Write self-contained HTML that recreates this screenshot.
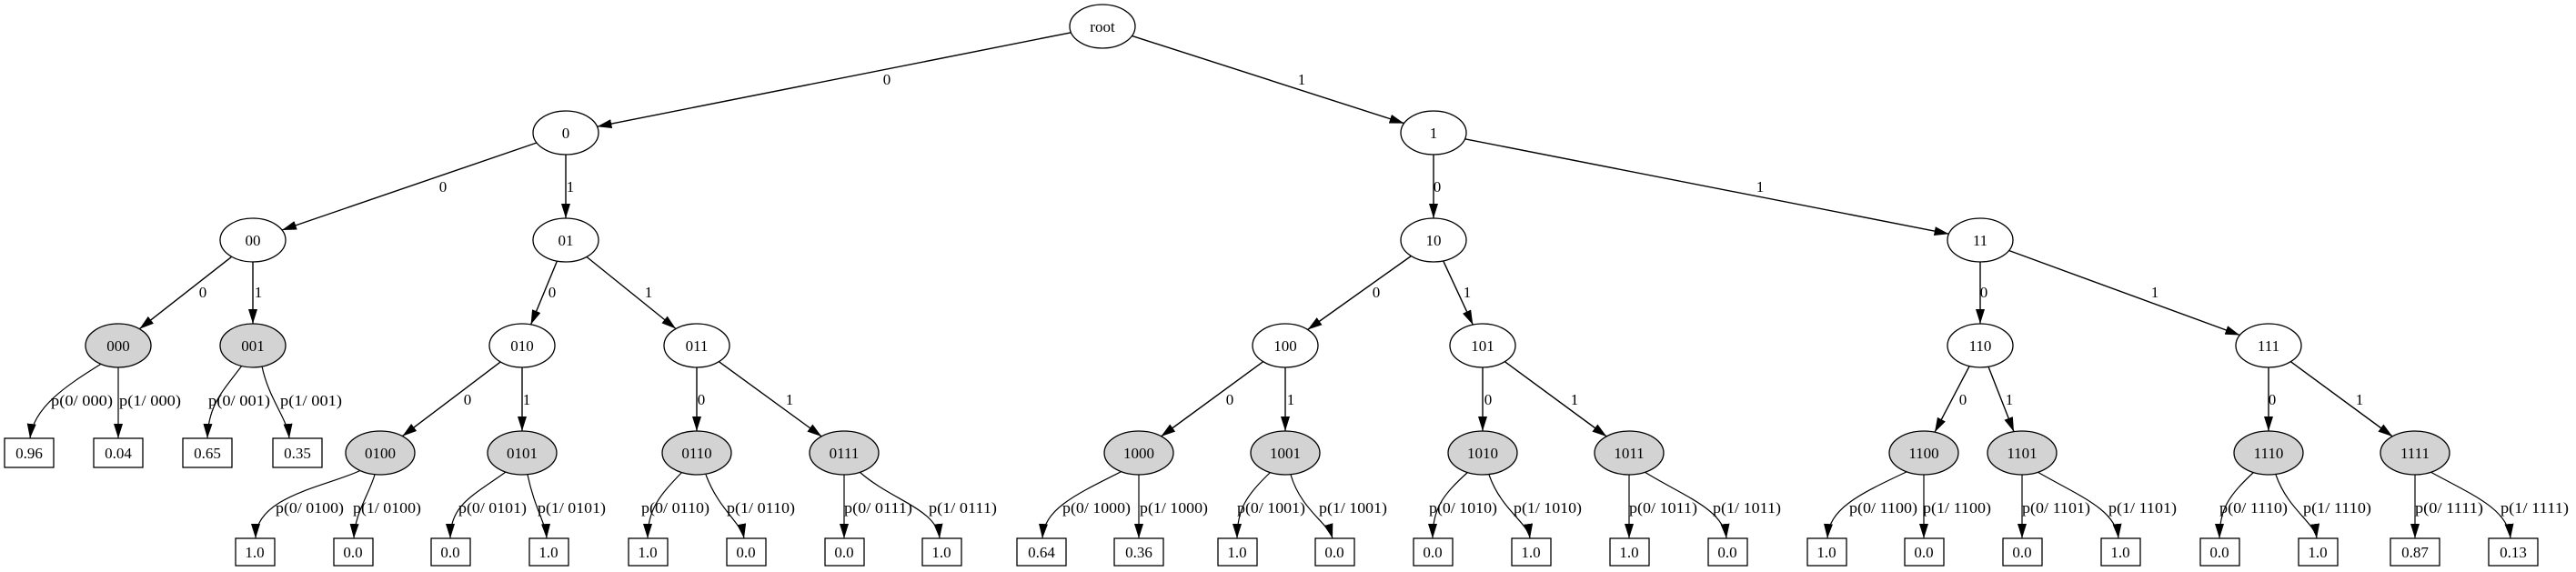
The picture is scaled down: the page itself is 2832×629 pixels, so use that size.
<!DOCTYPE html>
<html><head><meta charset="utf-8"><style>
html,body{margin:0;padding:0;background:#fff;}
svg{display:block;font-family:"Liberation Serif",serif;}
</style></head><body>
<svg width="2832" height="629" viewBox="0 0 2832 629" xmlns="http://www.w3.org/2000/svg">
<defs>
<marker id="a" markerUnits="userSpaceOnUse" markerWidth="16" markerHeight="10" refX="16" refY="5" orient="auto">
<path d="M0,0 L16,5 L0,10 z" fill="#000"/>
</marker>
</defs>
<g stroke="#000" stroke-width="1.4" fill="none" marker-end="url(#a)">
<line x1="1177.5" y1="35.8" x2="656.5" y2="139.2"/>
<line x1="1244.4" y1="39.4" x2="1543.6" y2="135.6"/>
<line x1="590" y1="157" x2="310" y2="253"/>
<line x1="622" y1="170" x2="622" y2="240"/>
<line x1="1576" y1="170" x2="1576" y2="240"/>
<line x1="1610.5" y1="152.8" x2="2142.5" y2="257.2"/>
<line x1="254.7" y1="282.3" x2="153.3" y2="361.7"/>
<line x1="278" y1="288" x2="278" y2="356"/>
<line x1="612.4" y1="287.1" x2="583.6" y2="356.9"/>
<line x1="645" y1="282.5" x2="743" y2="361.5"/>
<line x1="1551.4" y1="281.5" x2="1437.6" y2="362.5"/>
<line x1="1586.7" y1="286.9" x2="1619.3" y2="357.1"/>
<line x1="2177" y1="288" x2="2177" y2="356"/>
<line x1="2208.6" y1="275.5" x2="2462.4" y2="368.5"/>
<line x1="550.1" y1="398.1" x2="442.4" y2="479.6"/>
<line x1="574" y1="404" x2="574" y2="474"/>
<line x1="766" y1="404" x2="766" y2="474"/>
<line x1="790.2" y1="397.6" x2="903.3" y2="480"/>
<line x1="1388.8" y1="397.6" x2="1276.3" y2="480"/>
<line x1="1413" y1="404" x2="1413" y2="474"/>
<line x1="1630" y1="404" x2="1630" y2="474"/>
<line x1="1654.2" y1="397.6" x2="1766.3" y2="480"/>
<line x1="2165.1" y1="402.7" x2="2127" y2="475.3"/>
<line x1="2186" y1="403.2" x2="2214" y2="474.8"/>
<line x1="2494" y1="404" x2="2494" y2="474"/>
<line x1="2518.2" y1="397.6" x2="2630.3" y2="480"/>
</g>
<g stroke="#000" stroke-width="1.2" fill="none" marker-end="url(#a)">
<path d="M113,399 C80,420 37,445 33,482"/>
<path d="M130,404 L130,482"/>
<path d="M266,402 C245,430 229,445 228,482"/>
<path d="M288,403 C296,440 316,460 318,482"/>
<path d="M397,517 C360,535 281,545 281,592"/>
<path d="M412,522 C405,545 390,565 389,592"/>
<path d="M556,519 C520,545 495,555 495,592"/>
<path d="M580,522 C588,560 600,575 601,592"/>
<path d="M750,519 C725,545 712,560 712,592"/>
<path d="M776,522 C790,560 815,575 818,592"/>
<path d="M928,522 L928,592"/>
<path d="M945,519 C980,550 1030,560 1033,592"/>
<path d="M1234,518 C1180,545 1148,560 1146,592"/>
<path d="M1252,522 L1252,592"/>
<path d="M1397,519 C1370,545 1360,560 1360,592"/>
<path d="M1419,522 C1430,560 1460,575 1465,592"/>
<path d="M1614,519 C1585,545 1575,560 1575,592"/>
<path d="M1637,522 C1650,560 1680,575 1682,592"/>
<path d="M1791,522 L1791,592"/>
<path d="M1808,519 C1850,545 1895,560 1898,592"/>
<path d="M2098,518 C2040,545 2011,560 2009,592"/>
<path d="M2115,522 L2115,592"/>
<path d="M2223,522 L2223,592"/>
<path d="M2240,519 C2285,545 2326,560 2329,592"/>
<path d="M2478,519 C2450,545 2440,560 2440,592"/>
<path d="M2502,522 C2515,560 2545,575 2547,592"/>
<path d="M2655,522 L2655,592"/>
<path d="M2672,519 C2720,545 2757,560 2760,592"/>
</g>
<g stroke="#000" stroke-width="1.3" fill="#fff">
<ellipse cx="1212" cy="29" rx="36" ry="24"/>
<ellipse cx="622" cy="146" rx="36" ry="24"/>
<ellipse cx="1576" cy="146" rx="36" ry="24"/>
<ellipse cx="278" cy="264" rx="36" ry="24"/>
<ellipse cx="622" cy="264" rx="36" ry="24"/>
<ellipse cx="1576" cy="264" rx="36" ry="24"/>
<ellipse cx="2177" cy="264" rx="36" ry="24"/>
<ellipse cx="574" cy="380" rx="36" ry="24"/>
<ellipse cx="766" cy="380" rx="36" ry="24"/>
<ellipse cx="1413" cy="380" rx="36" ry="24"/>
<ellipse cx="1630" cy="380" rx="36" ry="24"/>
<ellipse cx="2177" cy="380" rx="36" ry="24"/>
<ellipse cx="2494" cy="380" rx="36" ry="24"/>
</g>
<g stroke="#000" stroke-width="1.3" fill="#d3d3d3">
<ellipse cx="130" cy="380" rx="36" ry="24"/>
<ellipse cx="278" cy="380" rx="36" ry="24"/>
<ellipse cx="418" cy="498" rx="38" ry="24"/>
<ellipse cx="574" cy="498" rx="38" ry="24"/>
<ellipse cx="766" cy="498" rx="38" ry="24"/>
<ellipse cx="928" cy="498" rx="38" ry="24"/>
<ellipse cx="1252" cy="498" rx="38" ry="24"/>
<ellipse cx="1413" cy="498" rx="38" ry="24"/>
<ellipse cx="1630" cy="498" rx="38" ry="24"/>
<ellipse cx="1791" cy="498" rx="38" ry="24"/>
<ellipse cx="2115" cy="498" rx="38" ry="24"/>
<ellipse cx="2223" cy="498" rx="38" ry="24"/>
<ellipse cx="2494" cy="498" rx="38" ry="24"/>
<ellipse cx="2655" cy="498" rx="38" ry="24"/>
</g>
<g stroke="#000" stroke-width="1.3" fill="#fff">
<rect x="5" y="482" width="54" height="32"/>
<rect x="103" y="482" width="54" height="32"/>
<rect x="201" y="482" width="54" height="32"/>
<rect x="300" y="482" width="54" height="32"/>
<rect x="259" y="592" width="43" height="30"/>
<rect x="367" y="592" width="43" height="30"/>
<rect x="474" y="592" width="43" height="30"/>
<rect x="582" y="592" width="43" height="30"/>
<rect x="691" y="592" width="43" height="30"/>
<rect x="799" y="592" width="43" height="30"/>
<rect x="907" y="592" width="43" height="30"/>
<rect x="1014" y="592" width="43" height="30"/>
<rect x="1118" y="592" width="54" height="30"/>
<rect x="1225" y="592" width="54" height="30"/>
<rect x="1339" y="592" width="43" height="30"/>
<rect x="1446" y="592" width="43" height="30"/>
<rect x="1554" y="592" width="43" height="30"/>
<rect x="1662" y="592" width="43" height="30"/>
<rect x="1770" y="592" width="43" height="30"/>
<rect x="1878" y="592" width="43" height="30"/>
<rect x="1987" y="592" width="43" height="30"/>
<rect x="2094" y="592" width="43" height="30"/>
<rect x="2202" y="592" width="43" height="30"/>
<rect x="2310" y="592" width="43" height="30"/>
<rect x="2419" y="592" width="43" height="30"/>
<rect x="2527" y="592" width="43" height="30"/>
<rect x="2628" y="592" width="54" height="30"/>
<rect x="2736" y="592" width="54" height="30"/>
</g>
<g font-size="17" text-anchor="middle" fill="#000">
<text x="1212" y="35">root</text>
<text x="622" y="152">0</text><text x="1576" y="152">1</text>
<text x="278" y="270">00</text><text x="622" y="270">01</text><text x="1576" y="270">10</text><text x="2177" y="270">11</text>
<text x="130" y="386">000</text><text x="278" y="386">001</text><text x="574" y="386">010</text><text x="766" y="386">011</text>
<text x="1413" y="386">100</text><text x="1630" y="386">101</text><text x="2177" y="386">110</text><text x="2494" y="386">111</text>
<text x="418" y="504">0100</text><text x="574" y="504">0101</text><text x="766" y="504">0110</text><text x="928" y="504">0111</text>
<text x="1252" y="504">1000</text><text x="1413" y="504">1001</text><text x="1630" y="504">1010</text><text x="1791" y="504">1011</text>
<text x="2115" y="504">1100</text><text x="2223" y="504">1101</text><text x="2494" y="504">1110</text><text x="2655" y="504">1111</text>
<text x="32" y="504">0.96</text><text x="130" y="504">0.04</text><text x="228" y="504">0.65</text><text x="327" y="504">0.35</text>
<text x="280" y="613">1.0</text><text x="388" y="613">0.0</text><text x="495" y="613">0.0</text><text x="603" y="613">1.0</text>
<text x="712" y="613">1.0</text><text x="820" y="613">0.0</text><text x="928" y="613">0.0</text><text x="1035" y="613">1.0</text>
<text x="1145" y="613">0.64</text><text x="1252" y="613">0.36</text><text x="1360" y="613">1.0</text><text x="1467" y="613">0.0</text>
<text x="1575" y="613">0.0</text><text x="1683" y="613">1.0</text><text x="1791" y="613">1.0</text><text x="1899" y="613">0.0</text>
<text x="2008" y="613">1.0</text><text x="2115" y="613">0.0</text><text x="2223" y="613">0.0</text><text x="2331" y="613">1.0</text>
<text x="2440" y="613">0.0</text><text x="2548" y="613">1.0</text><text x="2655" y="613">0.87</text><text x="2763" y="613">0.13</text>
<text x="975" y="93">0</text><text x="1431" y="93">1</text>
<text x="487" y="211">0</text><text x="627" y="211">1</text><text x="1580" y="211">0</text><text x="1935" y="211">1</text>
<text x="223" y="327">0</text><text x="284" y="327">1</text><text x="607" y="327">0</text><text x="713" y="327">1</text>
<text x="1513" y="327">0</text><text x="1613" y="327">1</text><text x="2181" y="327">0</text><text x="2369" y="327">1</text>
<text x="514" y="445">0</text><text x="579" y="445">1</text><text x="771" y="445">0</text><text x="868" y="445">1</text>
<text x="1352" y="445">0</text><text x="1419" y="445">1</text><text x="1636" y="445">0</text><text x="1731" y="445">1</text>
<text x="2158" y="445">0</text><text x="2209" y="445">1</text><text x="2498" y="445">0</text><text x="2594" y="445">1</text>
</g>
<g font-size="17" fill="#000">
<text x="56" y="446" textLength="68" lengthAdjust="spacingAndGlyphs">p(0/ 000)</text>
<text x="131" y="446" textLength="68" lengthAdjust="spacingAndGlyphs">p(1/ 000)</text>
<text x="229" y="446" textLength="68" lengthAdjust="spacingAndGlyphs">p(0/ 001)</text>
<text x="308" y="446" textLength="68" lengthAdjust="spacingAndGlyphs">p(1/ 001)</text>
<text x="303" y="564" textLength="75" lengthAdjust="spacingAndGlyphs">p(0/ 0100)</text>
<text x="388" y="564" textLength="75" lengthAdjust="spacingAndGlyphs">p(1/ 0100)</text>
<text x="504" y="564" textLength="75" lengthAdjust="spacingAndGlyphs">p(0/ 0101)</text>
<text x="591" y="564" textLength="75" lengthAdjust="spacingAndGlyphs">p(1/ 0101)</text>
<text x="705" y="564" textLength="75" lengthAdjust="spacingAndGlyphs">p(0/ 0110)</text>
<text x="799" y="564" textLength="75" lengthAdjust="spacingAndGlyphs">p(1/ 0110)</text>
<text x="928" y="564" textLength="75" lengthAdjust="spacingAndGlyphs">p(0/ 0111)</text>
<text x="1021" y="564" textLength="75" lengthAdjust="spacingAndGlyphs">p(1/ 0111)</text>
<text x="1168" y="564" textLength="75" lengthAdjust="spacingAndGlyphs">p(0/ 1000)</text>
<text x="1253" y="564" textLength="75" lengthAdjust="spacingAndGlyphs">p(1/ 1000)</text>
<text x="1360" y="564" textLength="75" lengthAdjust="spacingAndGlyphs">p(0/ 1001)</text>
<text x="1450" y="564" textLength="75" lengthAdjust="spacingAndGlyphs">p(1/ 1001)</text>
<text x="1571" y="564" textLength="75" lengthAdjust="spacingAndGlyphs">p(0/ 1010)</text>
<text x="1664" y="564" textLength="75" lengthAdjust="spacingAndGlyphs">p(1/ 1010)</text>
<text x="1791" y="564" textLength="75" lengthAdjust="spacingAndGlyphs">p(0/ 1011)</text>
<text x="1883" y="564" textLength="75" lengthAdjust="spacingAndGlyphs">p(1/ 1011)</text>
<text x="2033" y="564" textLength="75" lengthAdjust="spacingAndGlyphs">p(0/ 1100)</text>
<text x="2114" y="564" textLength="75" lengthAdjust="spacingAndGlyphs">p(1/ 1100)</text>
<text x="2223" y="564" textLength="75" lengthAdjust="spacingAndGlyphs">p(0/ 1101)</text>
<text x="2318" y="564" textLength="75" lengthAdjust="spacingAndGlyphs">p(1/ 1101)</text>
<text x="2440" y="564" textLength="75" lengthAdjust="spacingAndGlyphs">p(0/ 1110)</text>
<text x="2532" y="564" textLength="75" lengthAdjust="spacingAndGlyphs">p(1/ 1110)</text>
<text x="2655" y="564" textLength="75" lengthAdjust="spacingAndGlyphs">p(0/ 1111)</text>
<text x="2749" y="564" textLength="75" lengthAdjust="spacingAndGlyphs">p(1/ 1111)</text>
</g>
</svg>
</body></html>
